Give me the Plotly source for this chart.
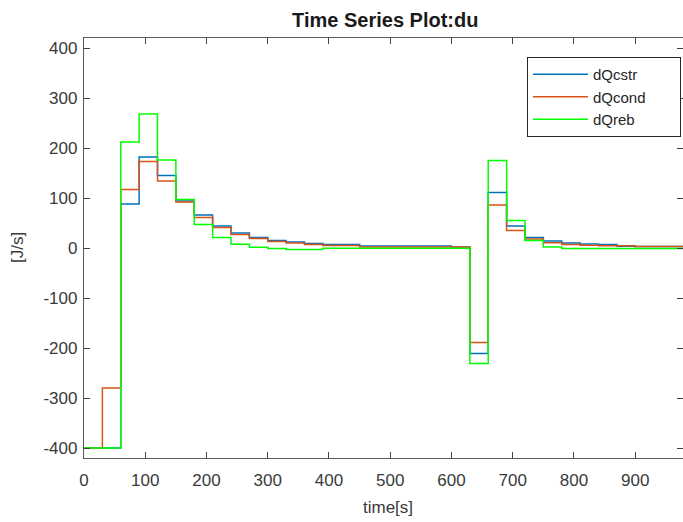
import plotly.graph_objects as go

# sample times [s] (sample period 30 s)
time = [0, 30, 60, 90, 120, 150, 180, 210, 240, 270, 300, 330, 360, 390, 420, 450, 480,
        510, 540, 570, 600, 630, 660, 690, 720, 750, 780, 810, 840, 870, 900, 930, 960, 990]

dQcstr = [-400, -400, 88, 182, 145, 94, 66, 44, 30, 21, 15, 12, 9, 7, 7, 4, 4,
          4, 4, 4, 2, -211, 111, 44, 21, 14, 10, 8, 7, 3.5, 3, 3, 3, 3]

dQcond = [-400, -280, 117, 173, 134, 92, 61, 41, 27, 19, 13, 10, 7, 5, 5, 2, 2,
          2, 2, 2, 2, -189, 86, 35, 18, 10.7, 7, 5.5, 4.5, 4.5, 3, 3, 3, 3]

dQreb = [-400, -400, 212, 268, 176, 97, 47, 21, 7.5, 1.5, -1, -3, -3, -0.5, -0.5, -0.5, -0.5,
         -0.5, -0.5, -0.5, -0.5, -231, 175, 55, 15, 2, -1, -1, -1, -1, -1, -1, -1, -1]

series_names = ["dQcstr", "dQcond", "dQreb"]
series_values = [dQcstr, dQcond, dQreb]
series_colors = ["#0072BD", "#D95319", "#00FF00"]

x_ticks = [0, 100, 200, 300, 400, 500, 600, 700, 800, 900]
x_tick_labels = ["0", "100", "200", "300", "400", "500", "600", "700", "800", "900"]
y_ticks = [-400, -300, -200, -100, 0, 100, 200, 300, 400]
y_tick_labels = ["-400", "-300", "-200", "-100", "0", "100", "200", "300", "400"]

PAD = "\u00a0" * 7  # right padding inside the legend box, as in the reference

fig = go.Figure()
for name, vals, col in zip(series_names, series_values, series_colors):
    fig.add_trace(go.Scatter(x=time, y=vals, mode="lines", name=name + PAD,
                             hovertemplate=name + ": %{y}<extra></extra>",
                             line=dict(color=col, width=1.5, shape="hv")))

axis_common = dict(showline=True, linecolor="#5a5a5a", linewidth=1.3, mirror="ticks",
                   ticks="inside", ticklen=6, tickwidth=1, tickcolor="#404040",
                   showgrid=False, zeroline=False,
                   tickfont=dict(family="Liberation Sans, Arial", size=17, color="#3a3a3a"))

fig.update_layout(
    width=683, height=522,
    margin=dict(l=84, r=0, t=38, b=64, autoexpand=False),
    paper_bgcolor="white", plot_bgcolor="white",
    showlegend=True,
    title=dict(text="<b>Time Series Plot:du</b>", x=0.503, xref="paper", xanchor="center",
               y=1 - 20 / 522, yref="container", yanchor="middle",
               font=dict(family="Liberation Sans, Arial", size=20, color="#1a1a1a")),
    xaxis=dict(range=[0, 978], tickvals=x_ticks, ticktext=x_tick_labels,
               ticklabelstandoff=6, **axis_common),
    yaxis=dict(range=[-420, 420], tickvals=y_ticks, ticktext=y_tick_labels,
               ticklabelstandoff=2, **axis_common),
    legend=dict(x=(681 - 84) / 599, xanchor="right", y=0.955, yanchor="top",
                bordercolor="#262626", borderwidth=1, bgcolor="white",
                itemwidth=55,
                font=dict(family="Liberation Sans, Arial", size=15, color="#262626")),
    annotations=[
        dict(text="time[s]", xref="paper", yref="paper", x=(388 - 84) / 599, y=-(507 - 458) / 420,
             xanchor="center", yanchor="middle", showarrow=False,
             font=dict(family="Liberation Sans, Arial", size=17, color="#3a3a3a")),
        dict(text="[J/s]", xref="paper", yref="paper", x=-(84 - 17) / 599, y=0.5,
             xanchor="center", yanchor="middle", textangle=-90, showarrow=False,
             font=dict(family="Liberation Sans, Arial", size=17, color="#3a3a3a")),
    ],
)

fig.write_html("out.html")
